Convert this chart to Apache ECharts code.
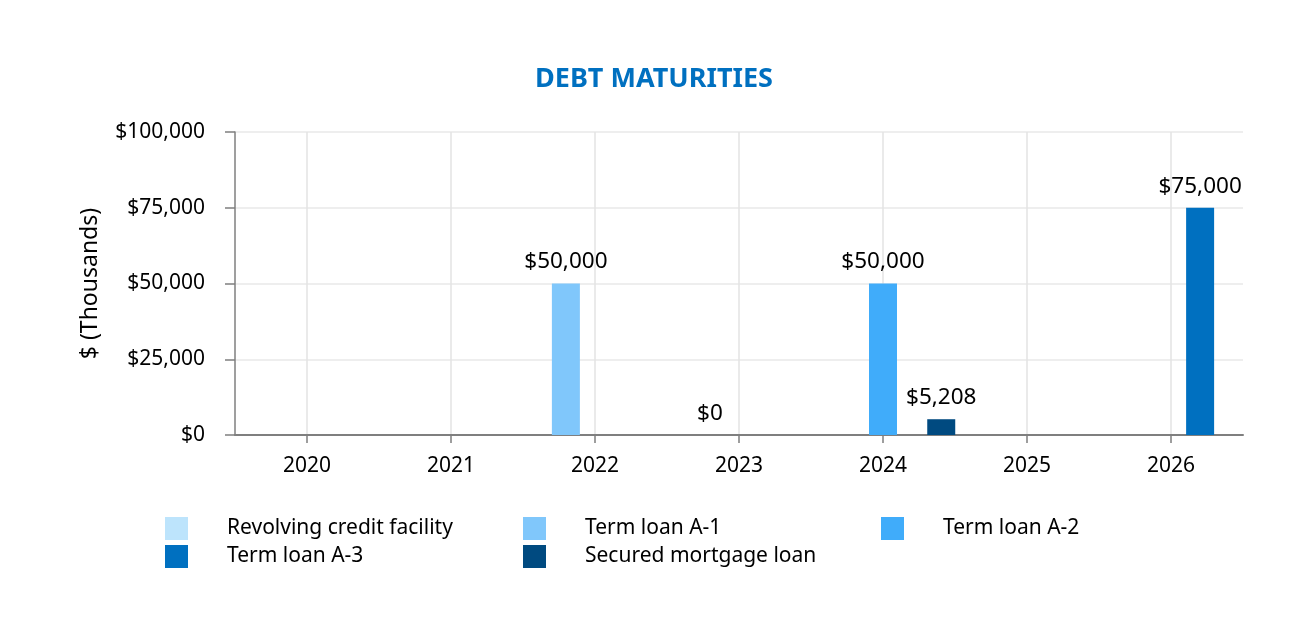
<!DOCTYPE html>
<html>
<head>
<meta charset="utf-8">
<script src="https://cdn.jsdelivr.net/npm/echarts@6/dist/echarts.min.js"></script>
<style>
html,body{margin:0;padding:0;background:#fff;}
#c{width:1308px;height:644px;}
</style>
</head>
<body>
<div id="c"></div>
<script>
var categories = ['2020','2021','2022','2023','2024','2025','2026'];
var seriesNames = ['Revolving credit facility','Term loan A-1','Term loan A-2','Term loan A-3','Secured mortgage loan'];
var revolving = [null,null,null,null,null,null,null];
var termA1 = [null,null,50000,0,null,null,null];
var termA2 = [null,null,null,null,50000,null,null];
var termA3 = [null,null,null,null,null,null,75000];
var secured = [null,null,null,null,5208,null,null];
var yTicks = [0,25000,50000,75000,100000];
var colors = ['#BDE4FC','#80C7FB','#40ACFA','#0070C0','#004A80'];

var FONT = 'Noto Sans';
function money(v){ return '$' + Number(v).toLocaleString('en-US'); }

var allData = [revolving, termA1, termA2, termA3, secured];
var series = seriesNames.map(function(n, i){
  return {
    name: n,
    type: 'bar',
    data: allData[i],
    barWidth: 28,
    barGap: '4%',
    itemStyle: {color: colors[i]},
    label: {
      show: true,
      position: 'top',
      distance: 10,
      color: '#000',
      fontFamily: FONT,
      fontSize: 22.5,
      formatter: function(p){ return (p.value === null || p.value === undefined) ? '' : money(p.value); }
    }
  };
});

var legendPos = [
  {left:165, top:517},
  {left:523, top:517},
  {left:881, top:517},
  {left:165, top:545},
  {left:523, top:545}
];
var legends = seriesNames.map(function(n, i){
  return {
    data: [{name: n, icon: 'rect'}],
    left: legendPos[i].left,
    top: legendPos[i].top,
    padding: 0,
    itemWidth: 23,
    itemHeight: 23,
    selectedMode: false,
    textStyle: {fontFamily: FONT, fontSize: 21, color: '#000', padding: [4,0,0,34]}
  };
});

var chart = echarts.init(document.getElementById('c'));
chart.setOption({
  backgroundColor: '#fff',
  animation: false,
  title: {
    text: 'DEBT MATURITIES',
    left: 'center',
    top: 61,
    textStyle: {fontFamily: FONT, fontSize: 27, fontWeight: 'bold', color: '#0070C0'}
  },
  legend: legends,
  grid: {left: 235, right: 65, top: 132, bottom: 209, containLabel: false},
  xAxis: {
    type: 'category',
    data: categories,
    boundaryGap: true,
    axisLine: {show: true, lineStyle: {color: '#7f7f7f', width: 2}},
    axisTick: {show: true, alignWithLabel: true, length: 8, lineStyle: {color: '#7f7f7f', width: 1.5}},
    axisLabel: {fontFamily: FONT, fontSize: 21, color: '#000', margin: 21},
    splitLine: {show: true, alignWithLabel: true, lineStyle: {color: '#e3e3e3', width: 1.5}}
  },
  yAxis: {
    type: 'value',
    min: yTicks[0],
    max: yTicks[yTicks.length-1],
    interval: 25000,
    name: '$ (Thousands)',
    nameLocation: 'middle',
    nameGap: 133,
    nameRotate: 90,
    nameTextStyle: {fontFamily: FONT, fontSize: 23, color: '#000'},
    axisLine: {show: true, lineStyle: {color: '#7f7f7f', width: 1.5}},
    axisTick: {show: true, length: 10, lineStyle: {color: '#7f7f7f', width: 1.5}},
    axisLabel: {fontFamily: FONT, fontSize: 21, color: '#000', margin: 30, formatter: function(v){ return money(v); }},
    splitLine: {show: true, lineStyle: {color: '#e8e8e8', width: 1.5}}
  },
  series: series
});
</script>
</body>
</html>
